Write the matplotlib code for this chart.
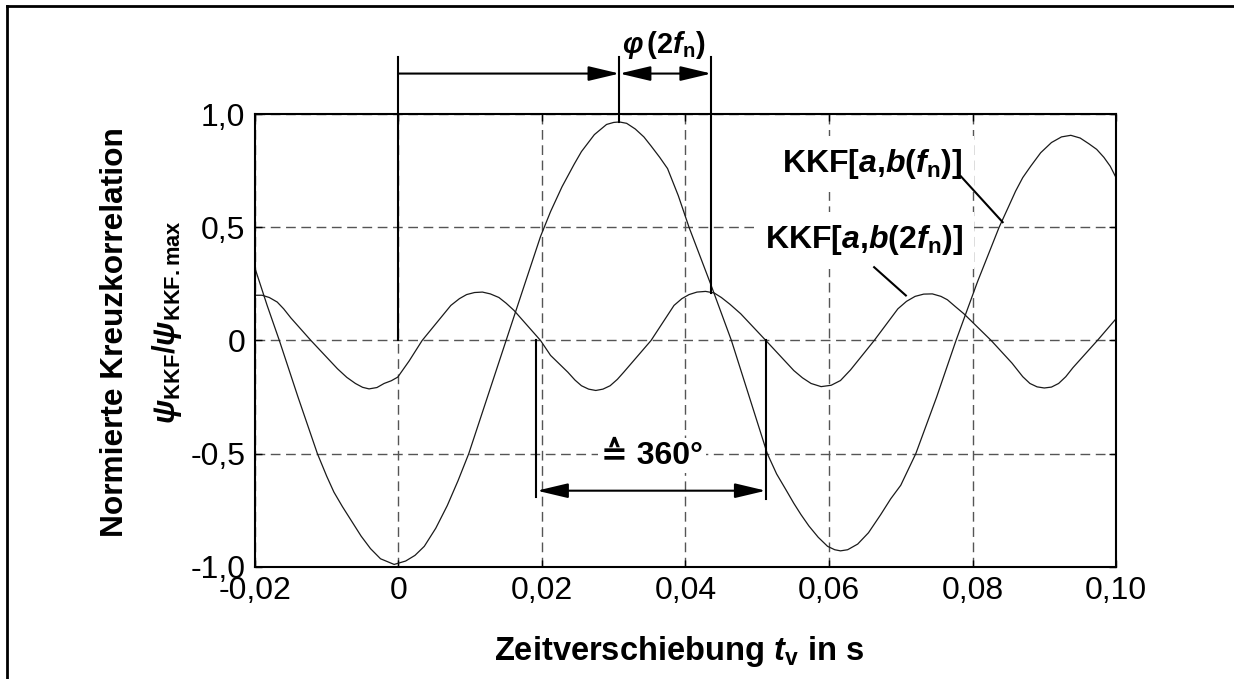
import matplotlib.pyplot as plt
from matplotlib.lines import Line2D

plt.rcParams['font.family'] = ['Liberation Sans', 'DejaVu Sans']
plt.rcParams['mathtext.fontset'] = 'custom'
plt.rcParams['mathtext.rm'] = 'Liberation Sans'
plt.rcParams['mathtext.it'] = 'Liberation Sans:italic'
plt.rcParams['mathtext.bf'] = 'Liberation Sans:bold'
plt.rcParams['mathtext.bfit'] = 'Liberation Sans:italic:bold'

# ------------------------------------------------------------------
# Kreuzkorrelationsfunktionen (normiert)
# ------------------------------------------------------------------
t_fn = [-0.0200, -0.0183, -0.0166, -0.0140, -0.0113, -0.0100, -0.0090, -0.0078,
        -0.0067, -0.0052, -0.0039, -0.0025, -0.0006, 0.0010, 0.0023, 0.0036,
        0.0052, 0.0068, 0.0083, 0.0098, 0.0124, 0.0150, 0.0175, 0.0198,
        0.0212, 0.0228, 0.0245, 0.0255, 0.0273, 0.0290, 0.0300, 0.0308,
        0.0318, 0.0330, 0.0342, 0.0352, 0.0364, 0.0375, 0.0390, 0.0405,
        0.0435, 0.0464, 0.0490, 0.0514, 0.0527, 0.0540, 0.0551, 0.0561,
        0.0572, 0.0585, 0.0598, 0.0608, 0.0616, 0.0626, 0.0640, 0.0655,
        0.0672, 0.0686, 0.0700, 0.0721, 0.0750, 0.0777, 0.0807, 0.0837,
        0.0850, 0.0860, 0.0870, 0.0881, 0.0895, 0.0910, 0.0924, 0.0937,
        0.0950, 0.0962, 0.0973, 0.0983, 0.0992, 0.1000]
kkf_fn = [0.32, 0.155, 0.00, -0.25, -0.50, -0.60, -0.67, -0.735,
          -0.79, -0.865, -0.92, -0.965, -0.99, -0.975, -0.95, -0.91,
          -0.83, -0.73, -0.62, -0.50, -0.25, 0.00, 0.24, 0.46,
          0.57, 0.68, 0.78, 0.835, 0.91, 0.955, 0.964, 0.966,
          0.96, 0.935, 0.90, 0.86, 0.81, 0.76, 0.64, 0.50,
          0.25, 0.00, -0.26, -0.50, -0.59, -0.66, -0.72, -0.77,
          -0.82, -0.87, -0.91, -0.925, -0.93, -0.925, -0.90, -0.85,
          -0.77, -0.70, -0.64, -0.50, -0.25, 0.00, 0.26, 0.50,
          0.59, 0.66, 0.72, 0.77, 0.83, 0.875, 0.90, 0.907,
          0.895, 0.87, 0.845, 0.81, 0.77, 0.72]

t_2fn = [-0.0200, -0.0190, -0.0180, -0.0169, -0.0160, -0.0150, -0.0122, -0.0085,
         -0.0072, -0.0060, -0.0050, -0.0041, -0.0030, -0.0020, -0.0010, -0.0001,
         0.0015, 0.0033, 0.0073, 0.0085, 0.0095, 0.0106, 0.0117, 0.0128,
         0.0140, 0.0150, 0.0161, 0.0198, 0.0212, 0.0236, 0.0246, 0.0255,
         0.0265, 0.0275, 0.0285, 0.0295, 0.0305, 0.0314, 0.0352, 0.0384,
         0.0395, 0.0405, 0.0416, 0.0428, 0.0440, 0.0450, 0.0462, 0.0477,
         0.0512, 0.0551, 0.0563, 0.0575, 0.0589, 0.0603, 0.0616, 0.0630,
         0.0663, 0.0696, 0.0708, 0.0720, 0.0732, 0.0744, 0.0756, 0.0765,
         0.0776, 0.0788, 0.0826, 0.0855, 0.0870, 0.0880, 0.0890, 0.0900,
         0.0910, 0.0920, 0.0930, 0.0940, 0.0974, 0.1000]
kkf_2fn = [0.20, 0.20, 0.19, 0.17, 0.14, 0.10, 0.00, -0.125,
           -0.163, -0.19, -0.207, -0.214, -0.208, -0.19, -0.178, -0.162,
           -0.09, 0.00, 0.155, 0.185, 0.203, 0.212, 0.214, 0.206,
           0.19, 0.165, 0.133, 0.00, -0.066, -0.14, -0.175, -0.20,
           -0.215, -0.221, -0.215, -0.20, -0.172, -0.14, 0.00, 0.155,
           0.185, 0.203, 0.214, 0.217, 0.21, 0.19, 0.16, 0.118,
           0.00, -0.133, -0.165, -0.19, -0.204, -0.198, -0.177, -0.13,
           0.00, 0.14, 0.173, 0.195, 0.205, 0.206, 0.195, 0.18,
           0.15, 0.118, 0.00, -0.10, -0.16, -0.19, -0.205, -0.21,
           -0.206, -0.19, -0.16, -0.12, 0.00, 0.096]

x_ticks = [-0.02, 0.0, 0.02, 0.04, 0.06, 0.08, 0.10]
x_tick_labels = ['-0,02', '0', '0,02', '0,04', '0,06', '0,08', '0,10']
y_ticks = [-1.0, -0.5, 0.0, 0.5, 1.0]
y_tick_labels = ['-1,0', '-0,5', '0', '0,5', '1,0']

# Zeitpunkte der Bemaßung
t_max_fn = 0.0308       # Maximum KKF(f_n)
y_max_fn = 0.966
t_max_2fn = 0.0436      # Maximum KKF(2 f_n)
y_max_2fn = 0.21
t_period_start = 0.0193
t_period_end = 0.0512

# ------------------------------------------------------------------
# Figur
# ------------------------------------------------------------------
fig = plt.figure(figsize=(12.34, 6.79), dpi=100)
ax = fig.add_axes([0.2066, 0.1654, 0.6978, 0.6663])

ax.plot(t_fn, kkf_fn, color='#1a1a1a', lw=0.9, zorder=2)
ax.plot(t_2fn, kkf_2fn, color='#1a1a1a', lw=0.9, zorder=2)

ax.set_xlim(-0.02, 0.10)
ax.set_ylim(-1.0, 1.0)
ax.set_xticks(x_ticks, x_tick_labels)
ax.set_yticks(y_ticks, y_tick_labels)
ax.tick_params(direction='in', length=5, width=1, top=True, right=True,
               labelsize=23, pad=7)
ax.grid(True, color='#555555', lw=1.0, ls=(0, (7, 4)))
for sp in ax.spines.values():
    sp.set_linewidth(1.5)

# Bemaßungslinien
dim = dict(color='black', lw=1.5, clip_on=False, zorder=4)
top = 1.2535
ax.plot([0, 0], [0, top], **dim)
ax.plot([t_max_fn, t_max_fn], [y_max_fn, top], **dim)
ax.plot([t_max_2fn, t_max_2fn], [y_max_2fn, top], **dim)
ax.plot([0.0191, 0.0191], [0, -0.69], **dim)
ax.plot([t_period_end, t_period_end], [0, -0.70], **dim)


def dim_arrow(x0, x1, y, style):
    ax.annotate('', xy=(x1, y), xytext=(x0, y), annotation_clip=False,
                arrowprops=dict(arrowstyle=style + ',head_length=19,head_width=4.5',
                                mutation_scale=1, color='black', lw=1.5,
                                shrinkA=0, shrinkB=0))


dim_arrow(0, t_max_fn, 1.18, '-|>')
dim_arrow(t_max_fn, t_max_2fn, 1.18, '<|-|>')
dim_arrow(t_period_start, t_period_end, -0.664, '<|-|>')

ax.text(0.0370, 1.27, r'$\mathbfit{\varphi}\,\mathbf{(2}\mathbfit{f}_\mathbf{n}\mathbf{)}$',
        fontsize=21, ha='center', va='baseline', clip_on=False)
ax.text(0.0353, -0.509, '≙ 360°', fontsize=23, fontweight='bold',
        ha='center', va='center', zorder=3,
        bbox=dict(facecolor='white', edgecolor='none', pad=2))

# Kurvenbeschriftung
ax.text(0.07865, 0.745, r'KKF[$\mathbfit{a}$,$\mathbfit{b}$($\mathbfit{f}_\mathbf{n}$)]',
        fontsize=23, fontweight='bold', ha='right', va='baseline', zorder=3,
        bbox=dict(facecolor='white', edgecolor='none', pad=8))
ax.text(0.07865, 0.407, r'KKF[$\mathbfit{a}$,$\mathbfit{b}$(2$\mathbfit{f}_\mathbf{n}$)]',
        fontsize=23, fontweight='bold', ha='right', va='baseline', zorder=3,
        bbox=dict(facecolor='white', edgecolor='none', pad=8))
ax.plot([0.07837, 0.0842], [0.726, 0.523], color='black', lw=1.5, zorder=4)
ax.plot([0.06629, 0.07071], [0.324, 0.199], color='black', lw=1.5, zorder=4)

# Achsenbeschriftungen
fig.text(0.550, 0.028, r'Zeitverschiebung $\mathbfit{t}_\mathbf{v}$ in s',
         fontsize=23.5, fontweight='bold', ha='center', va='baseline')
fig.text(0.0932, 0.511, 'Normierte Kreuzkorrelation', fontsize=22.8,
         fontweight='bold', rotation=90, ha='center', va='center')
fig.text(0.1353, 0.526,
         r'$\mathbfit{\psi}_\mathbf{KKF}$/$\mathbfit{\psi}_\mathbf{KKF.max}$',
         fontsize=22.5, fontweight='bold', rotation=90, ha='center', va='center')

# Rahmen
fig.add_artist(Line2D([7 / 1234, 7 / 1234], [0, 1 - 6 / 679], color='black', lw=2))
fig.add_artist(Line2D([7 / 1234, 1], [1 - 6 / 679, 1 - 6 / 679], color='black', lw=2))

fig.savefig('out.png', dpi=100)
